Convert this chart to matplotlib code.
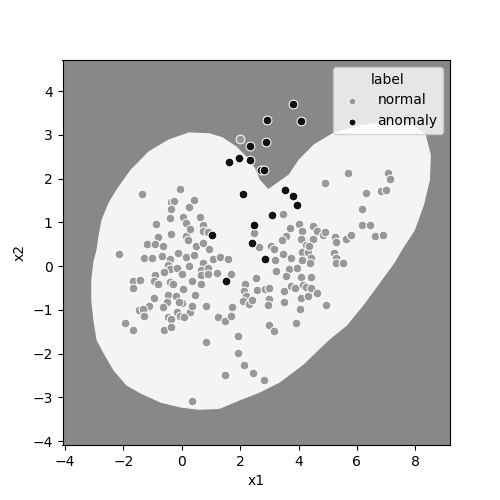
import matplotlib
matplotlib.use("Agg")
import matplotlib.pyplot as plt

# normal points (x1, x2)
normal_x1 = [-1.37, -0.06, -0.38, -0.26, 0.23, 0.41, -0.38, 0.05, -0.40, -0.87, 0.14, -0.36, -0.81, 0.15, 0.22, 0.28,
             -1.19, -0.93, -0.63,
             -2.14, -1.28, -1.02, -0.68, -0.42, -0.47, -0.40, -0.12, 0.14, 0.42, -0.61, -0.15, 0.0, 0.23, -1.67, -1.44,
             -1.67, -0.93, -0.95, -0.81, -0.40, -0.32, 0.05, 0.34, -0.47, -0.20, 0.01, -0.96, -0.51, -0.64, -0.10,
             -1.11, -1.46, -1.32, -1.28, -0.15, -0.07, 0.28, 0.36, -0.49, -0.36, 0.08, -1.95,
             -1.68, -0.61, -0.38, 0.36,
             3.46, 2.49, 0.63, 0.74, 0.71, 0.90, 0.48, 0.74, 0.94, 3.70, 4.03, 4.13, 3.57, 3.43, 4.08, 2.65, 3.06, 3.16,
             4.25,
             0.71, 1.07, 1.30, 1.59, 0.66, 0.88, 0.65, 0.88, 0.65, 1.22, 1.70, 3.20, 3.45, 3.74, 3.68, 3.93, 3.57, 3.22,
             4.11, 4.33, 4.13, 2.54, 2.17, 2.14, 2.21, 2.10, 2.31, 2.42, 2.59, 2.86, 3.00, 3.00, 2.94, 3.51, 3.74, 3.89,
             4.09, 4.15, 3.51, 4.09, 4.33, 4.06, 0.46, 0.82, 1.71, 1.24, 1.48, 1.70, 2.97, 3.91,
             3.16, 1.94, 0.84, 1.94, 2.14, 1.48, 2.45, 2.82,
             5.69, 4.90, 7.05, 7.15, 6.31, 6.82, 6.99, 6.18, 6.19, 6.46, 6.62, 6.89, 4.51, 4.63, 4.48, 4.36, 4.85, 4.90,
             5.25, 5.28, 5.64, 5.79,
             4.44, 4.40, 5.22, 5.30, 5.28, 5.54, 4.44, 4.25, 4.42, 4.63, 4.94,
             1.99]
normal_x2 = [1.65, 1.77, 1.46, 1.49, 1.36, 1.52, 1.30, 1.13, 1.10, 0.97, 0.98, 0.74, 0.66, 0.69, 0.59, 0.84,
             0.50, 0.50, 0.46,
             0.27, 0.18, 0.18, 0.23, 0.16, 0.02, -0.07, 0.29, 0.20, 0.25, -0.13, -0.05, -0.17, 0.01, -0.33, -0.31,
             -0.49, -0.21, -0.34, -0.41, -0.36, -0.42, -0.53, -0.34, -0.65, -0.68, -0.85, -0.72, -0.82, -0.93, -0.83,
             -0.91, -1.01, -0.99, -1.14, -1.04, -1.14, -1.04, -0.91, -1.16, -1.21, -1.16, -1.30,
             -1.45, -1.45, -1.39, -3.09,
             1.18, 0.75, 1.13, 0.94, 0.80, 0.78, 0.46, 0.52, 0.40, 0.88, 0.96, 0.80, 0.69, 0.59, 0.62, 0.43, 0.46, 0.40,
             0.48,
             0.08, 0.16, 0.21, 0.16, -0.08, -0.05, -0.21, -0.19, -0.40, -0.15, -0.18, 0.14, 0.27, 0.18, -0.07, -0.04,
             -0.22, -0.11, 0.33, 0.33, 0.14, -0.28, -0.40, -0.56, -0.68, -0.80, -0.87, -0.78, -0.55, -0.53, -0.51,
             -0.75, -0.89, -0.56, -0.45, -0.50, -0.26, -0.43, -0.82, -0.72, -0.68, -0.97, -0.66, -0.91, -0.94, -1.16,
             -1.25, -1.14, -1.35, -1.31,
             -1.49, -1.60, -1.73, -1.98, -2.27, -2.48, -2.45, -2.60,
             2.12, 1.90, 2.12, 1.98, 1.66, 1.72, 1.74, 1.30, 0.93, 0.94, 0.69, 0.72, 0.91, 0.81, 0.63, 0.46, 0.72, 0.78,
             0.67, 0.56, 0.63, 0.72,
             0.18, 0.06, 0.29, 0.19, 0.06, 0.06, -0.24, -0.47, -0.50, -0.62, -0.88,
             2.90]

# anomaly points
anom_x1 = [3.80, 2.92, 4.09, 2.88, 2.32, 1.96, 1.61, 2.35, 2.71, 2.82, 2.11, 3.52, 3.82, 3.93, 3.10, 2.48, 2.40,
           1.02, 2.86, 1.52]
anom_x2 = [3.71, 3.34, 3.31, 2.83, 2.75, 2.46, 2.39, 2.42, 2.19, 2.19, 1.64, 1.74, 1.60, 1.39, 1.16, 0.93, 0.52,
           0.70, 0.16, -0.33]

# outline of the "normal" region (decision boundary)
bound_x1 = [0.25, 0.94, 1.38, 1.86, 2.20, 2.48, 2.65, 2.96, 3.34, 3.68, 4.02, 4.54, 5.22, 6.08, 7.11, 7.90, 8.34,
            8.51, 8.48, 8.27, 7.96, 7.52, 7.28, 6.83, 6.25, 5.64, 5.08, 4.54, 4.19, 3.88, 3.34, 2.65, 1.96, 1.28,
            0.59, -0.02, -0.71, -1.40, -1.88, -2.32, -2.66, -2.90, -3.01, -3.08, -3.08, -3.01, -2.90, -2.84, -2.73,
            -2.49, -2.22, -1.74, -1.12, -0.44]
bound_x2 = [3.04, 3.02, 2.93, 2.72, 2.49, 2.24, 1.97, 1.74, 1.92, 2.08, 2.42, 2.77, 3.04, 3.20, 3.29, 3.22, 2.99,
            2.54, 1.97, 1.39, 0.82, 0.37, 0.09, -0.32, -0.85, -1.35, -1.65, -1.99, -2.22, -2.38, -2.65, -2.88, -3.06,
            -3.25, -3.27, -3.22, -3.11, -2.90, -2.72, -2.38, -1.99, -1.69, -1.23, -0.78, -0.32, 0.09, 0.37, 0.66,
            1.05, 1.44, 1.74, 2.19, 2.61, 2.88]

fig, ax = plt.subplots(figsize=(5, 5), dpi=100)
ax.set_facecolor('#888888')
ax.fill(bound_x1, bound_x2, color='#f4f4f4', zorder=1)

ax.scatter(normal_x1, normal_x2, s=40, c='#999999', edgecolors='white', linewidths=0.75, label='normal', zorder=3)
ax.scatter(anom_x1, anom_x2, s=40, c='#111111', edgecolors='white', linewidths=0.75, label='anomaly', zorder=3)

ax.set_xlim(-4.09, 9.19)
ax.set_ylim(-4.09, 4.71)
ax.set_xlabel('x1')
ax.set_ylabel('x2')
ax.legend(title='label', loc='upper right', markerscale=0.8)

fig.savefig('out.png')
